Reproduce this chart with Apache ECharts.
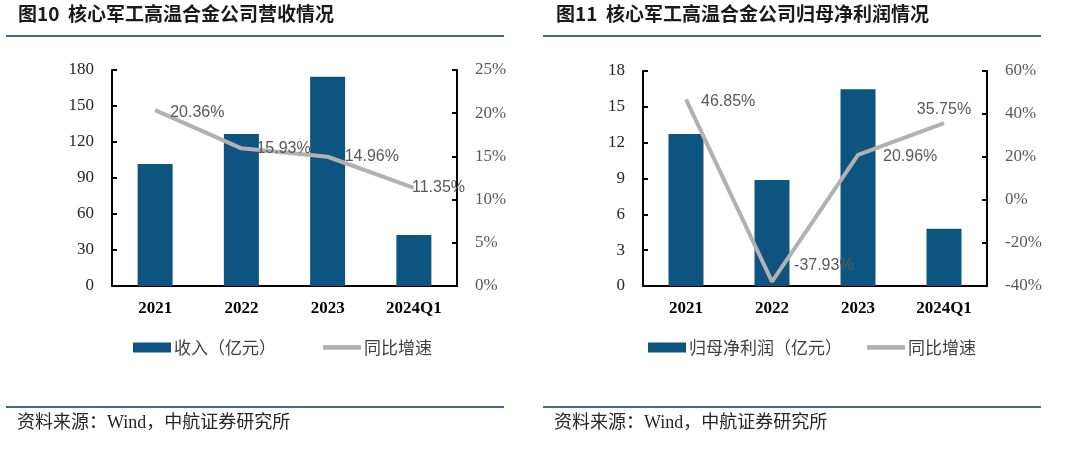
<!DOCTYPE html>
<html>
<head>
<meta charset="utf-8">
<script src="https://cdn.jsdelivr.net/npm/echarts@6/dist/echarts.min.js"></script>
<style>
html,body{margin:0;padding:0;background:#fff;}
#c{width:1080px;height:456px;}
</style>
</head>
<body>
<div id="c"></div>
<script>
// ---- data ----
const categories = ['2021', '2022', '2023', '2024Q1'];
const revenue = [101.6, 126.7, 174.4, 42.5];          // 收入（亿元）
const revenueGrowth = [20.36, 15.93, 14.96, 11.35];    // 同比增速 %
const netProfit = [12.73, 8.88, 16.47, 4.80];          // 归母净利润（亿元）
const profitGrowth = [46.85, -37.93, 20.96, 35.75];    // 同比增速 %
const title1 = '图10  核心军工高温合金公司营收情况';
const title2 = '图11  核心军工高温合金公司归母净利润情况';
const sourceText = '资料来源：Wind，中航证券研究所';

const BAR = '#0d5480';
const LINE = '#b1b1b1';
const SERIF = '"Liberation Serif","Times New Roman",serif';
const SANS = '"Noto Sans CJK SC","Liberation Sans",sans-serif';

const chart = echarts.init(document.getElementById('c'), null, {renderer: 'canvas'});

function catAxis(gi) {
  return {
    type: 'category', gridIndex: gi, data: categories,
    axisLine: {onZero: false, lineStyle: {color: '#000', width: 2}},
    axisTick: {inside: true, length: 5, lineStyle: {color: '#000', width: 2}},
    axisLabel: {color: '#000', fontFamily: SERIF, fontWeight: 'bold', fontSize: 17, margin: 14},
    splitLine: {show: false}
  };
}
function valAxis(gi, pos, min, max, interval, color, fmt) {
  return {
    type: 'value', gridIndex: gi, position: pos, min: min, max: max, interval: interval,
    axisLine: {show: true, lineStyle: {color: '#000', width: 2}},
    axisTick: {show: true, inside: true, length: 5, lineStyle: {color: '#000', width: 2}},
    axisLabel: {color: color, fontFamily: SERIF, fontSize: 17, margin: 18, formatter: fmt},
    splitLine: {show: false}
  };
}
const pct = v => v + '%';
const lblBase = {show: true, color: '#595959', fontFamily: '"Liberation Sans",Arial,sans-serif', fontSize: 16,
  formatter: p => p.value.toFixed(2) + '%'};

const lineData1 = revenueGrowth.map((v, i) => {
  const cfg = [
    {position: 'right', distance: 15, offset: [0, 3]},
    {position: 'right', distance: 15},
    {position: 'right', distance: 17},
    {position: 'right', distance: -2}
  ][i];
  return {value: v, label: cfg};
});
const lineData2 = profitGrowth.map((v, i) => {
  const cfg = [
    {position: 'right', distance: 15, offset: [0, 2]},
    {position: 'right', distance: 22, offset: [0, -16]},
    {position: 'right', distance: 25, offset: [0, 2]},
    {position: 'top', distance: 5}
  ][i];
  return {value: v, label: cfg};
});

const option = {
  animation: false,
  backgroundColor: '#fff',
  grid: [
    {left: 112, top: 70, width: 345, height: 216},
    {left: 643, top: 71, width: 344, height: 215}
  ],
  xAxis: [catAxis(0), catAxis(1)],
  yAxis: [
    valAxis(0, 'left', 0, 180, 30, '#262626'),
    valAxis(0, 'right', 0, 25, 5, '#595959', pct),
    valAxis(1, 'left', 0, 18, 3, '#262626'),
    valAxis(1, 'right', -40, 60, 20, '#595959', pct)
  ],
  legend: [
    {
      left: 128, top: 334, itemWidth: 38, itemHeight: 10, itemGap: 47,
      textStyle: {fontFamily: SANS, fontSize: 17, color: '#404040', padding: [0, 0, 0, -2]},
      data: [
        {name: '收入（亿元）', icon: 'rect'},
        {name: '同比增速', icon: 'path://M0 0h40v5H0z', itemStyle: {color: LINE}}
      ]
    },
    {
      left: 643, top: 334, itemWidth: 38, itemHeight: 10, itemGap: 25,
      textStyle: {fontFamily: SANS, fontSize: 17, color: '#404040', padding: [0, 0, 0, -2]},
      data: [
        {name: '归母净利润（亿元）', icon: 'rect'},
        {name: '同比增速 ', icon: 'path://M0 0h40v5H0z', itemStyle: {color: LINE}}
      ]
    }
  ],
  series: [
    {name: '收入（亿元）', type: 'bar', xAxisIndex: 0, yAxisIndex: 0, data: revenue,
      barWidth: 35, itemStyle: {color: BAR}},
    {name: '同比增速', type: 'line', xAxisIndex: 0, yAxisIndex: 1, data: lineData1,
      symbol: 'circle', symbolSize: 0.1, showSymbol: true,
      lineStyle: {color: LINE, width: 4}, itemStyle: {color: LINE}, label: lblBase},
    {name: '归母净利润（亿元）', type: 'bar', xAxisIndex: 1, yAxisIndex: 2, data: netProfit,
      barWidth: 35, itemStyle: {color: BAR}},
    {name: '同比增速 ', type: 'line', xAxisIndex: 1, yAxisIndex: 3, data: lineData2,
      symbol: 'circle', symbolSize: 0.1, showSymbol: true,
      lineStyle: {color: LINE, width: 4}, itemStyle: {color: LINE}, label: lblBase}
  ],
  graphic: [
    {type: 'text', left: 18, top: 4, style: {text: title1, font: 'bold 19px ' + SANS, fill: '#1a1a1a'}},
    {type: 'text', left: 556, top: 4, style: {text: title2, font: 'bold 19px ' + SANS, fill: '#1a1a1a'}},
    {type: 'line', shape: {x1: 6, y1: 36, x2: 504, y2: 36}, style: {stroke: '#44668f', lineWidth: 2}},
    {type: 'line', shape: {x1: 543, y1: 36, x2: 1041, y2: 36}, style: {stroke: '#44668f', lineWidth: 2}},
    {type: 'line', shape: {x1: 6, y1: 407, x2: 504, y2: 407}, style: {stroke: '#44668f', lineWidth: 2}},
    {type: 'line', shape: {x1: 543, y1: 407, x2: 1041, y2: 407}, style: {stroke: '#44668f', lineWidth: 2}},
    {type: 'text', left: 17, top: 414, style: {text: sourceText, font: '18px ' + SERIF + ',"Noto Sans CJK SC"', fill: '#262626'}},
    {type: 'text', left: 554, top: 414, style: {text: sourceText, font: '18px ' + SERIF + ',"Noto Sans CJK SC"', fill: '#262626'}}
  ]
};
chart.setOption(option);
</script>
</body>
</html>
